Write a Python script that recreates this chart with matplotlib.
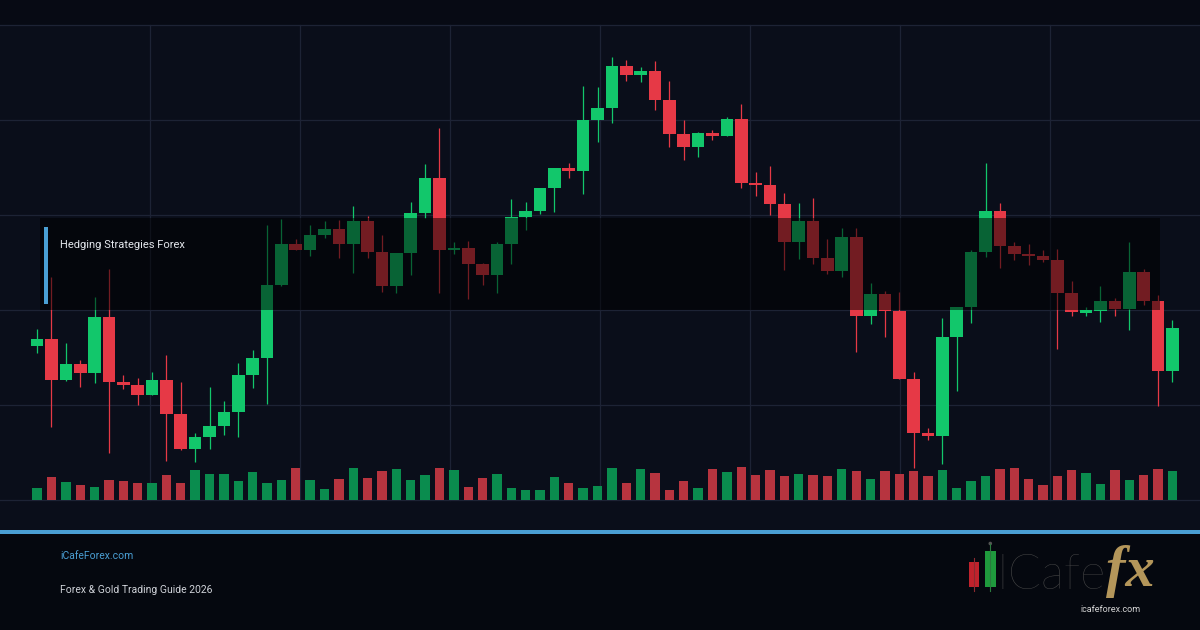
import matplotlib
matplotlib.use("Agg")
import matplotlib.pyplot as plt
from matplotlib.patches import Rectangle, Circle
import numpy as np

# ---------------- data ----------------
opens = [254.3, 261.0, 220.3, 236.0, 227.3, 283.0, 218.3, 215.0, 205.3, 220.0,
         186.3, 151.0, 163.0, 174.0, 188.0, 225.0, 242.0, 315.0, 356.0, 350.3,
         365.0, 371.0, 356.3, 379.0, 348.3, 314.3, 347.0, 387.0, 422.0, 349.6,
         352.0, 336.3, 325.3, 356.0, 383.0, 389.0, 412.0, 432.0, 429.0, 480.0,
         492.0, 534.0, 525.3, 529.0, 500.3, 466.3, 453.3, 467.0, 464.3, 481.0,
         417.3, 415.3, 396.3, 358.3, 379.0, 342.3, 329.3, 363.0, 284.3, 306.0,
         289.3, 221.0, 167.3, 164.3, 263.0, 293.0, 348.0, 389.0, 354.3, 346.3,
         344.3, 340.3, 307.3, 287.5, 289.0, 299.0, 291.0, 328.0, 299.3, 229.3]
highs = [271.0, 322.7, 256.7, 240.0, 303.0, 331.0, 225.0, 222.0, 228.0, 244.7,
         218.0, 167.3, 213.0, 199.0, 236.7, 250.0, 375.0, 381.0, 360.7, 375.0,
         379.0, 380.0, 394.0, 384.0, 365.0, 347.0, 398.0, 436.0, 472.0, 358.0,
         359.0, 337.0, 358.0, 401.0, 398.0, 412.0, 432.0, 437.0, 514.0, 513.0,
         543.0, 540.0, 533.0, 539.0, 519.0, 480.0, 468.0, 470.0, 483.0, 496.0,
         428.0, 434.0, 407.0, 397.0, 402.0, 361.0, 372.0, 372.0, 317.0, 309.0,
         308.3, 228.0, 172.3, 282.0, 293.0, 350.0, 437.0, 397.0, 358.3, 356.0,
         350.3, 351.0, 319.0, 293.0, 314.0, 302.0, 358.0, 331.0, 305.3, 280.0]
lows = [247.3, 173.3, 219.3, 213.3, 217.3, 147.3, 210.7, 195.3, 205.3, 139.3,
        150.3, 138.3, 151.3, 165.0, 163.3, 212.3, 196.0, 314.0, 350.0, 344.3,
        361.7, 342.3, 327.0, 342.3, 308.0, 307.0, 325.0, 382.3, 307.0, 345.7,
        301.0, 315.0, 307.0, 336.3, 370.3, 386.0, 388.0, 422.3, 406.3, 458.3,
        477.3, 519.3, 518.3, 490.3, 453.3, 440.3, 443.3, 460.3, 464.0, 412.3,
        404.3, 385.3, 330.3, 341.3, 336.3, 326.0, 323.3, 248.3, 276.3, 263.3,
        221.0, 132.3, 160.3, 136.3, 209.3, 277.3, 343.3, 332.3, 340.3, 335.0,
        338.3, 251.3, 284.3, 284.3, 278.0, 284.3, 270.0, 295.3, 194.3, 218.3]
closes = [261.0, 220.3, 236.0, 227.3, 283.0, 218.3, 215.0, 205.3, 220.0, 186.3,
          151.0, 163.0, 174.0, 188.0, 225.0, 242.0, 315.0, 356.0, 350.3, 365.0,
          371.0, 356.3, 379.0, 348.3, 314.3, 347.0, 387.0, 422.0, 350.3, 352.3,
          336.3, 325.3, 356.0, 383.0, 389.0, 412.0, 432.0, 429.0, 480.0, 492.0,
          534.0, 525.3, 529.0, 500.3, 466.3, 453.3, 467.0, 464.3, 481.0, 417.3,
          415.3, 396.3, 358.3, 379.0, 342.3, 329.3, 363.0, 284.3, 306.0, 289.3,
          221.0, 167.3, 164.3, 263.0, 293.0, 348.0, 389.0, 354.3, 346.3, 344.3,
          340.3, 307.3, 288.3, 289.7, 299.0, 291.0, 328.0, 299.3, 229.3, 272.0]
volumes = [1170, 2270, 1770, 1470, 1270, 1970, 1870, 1670, 1670, 2470,
           1670, 2970, 2570, 2570, 1870, 2770, 1670, 1970, 3170, 1970,
           1070, 2070, 3170, 2170, 2870, 3070, 1970, 2470, 3170, 2970,
           1270, 2170, 2570, 1170, 970, 970, 2270, 1670, 1170, 1370,
           3170, 1670, 3070, 2670, 970, 1870, 1170, 3070, 2770, 3270,
           2470, 2970, 2370, 2570, 2470, 2370, 3070, 2870, 2070, 2870,
           2570, 2870, 2370, 2970, 1170, 1870, 2370, 3070, 3170, 2070,
           1470, 2370, 2970, 2670, 1570, 2970, 1970, 2470, 3070, 2870]

title = "Hedging Strategies Forex"
site_label = "iCafeForex.com"
guide_label = "Forex & Gold Trading Guide 2026"
logo_word = "ICafe"
logo_fx = "fx"
logo_url = "icafeforex.com"

# ---------------- style ----------------
UP = "#12c76b"
DOWN = "#e63946"
VOL_UP = "#0a8c4e"
VOL_DOWN = "#b7343f"
BLUE = "#4a9fd4"
GRID = "#1d2335"

W, H = 1200, 630
fig = plt.figure(figsize=(12, 6.3), dpi=100, facecolor="#070a14")


def pixel_axes(z):
    a = fig.add_axes([0, 0, 1, 1], zorder=z)
    a.set_xlim(0, W)
    a.set_ylim(H, 0)
    a.axis("off")
    a.patch.set_alpha(0)
    return a


# background, grid, footer
bg = pixel_axes(0)
bg.add_patch(Rectangle((0, 25), W, 505, color="#0a0e1a", lw=0))
for gy in [25, 120, 215, 310, 405, 500]:
    bg.plot([0, W], [gy, gy], color=GRID, lw=0.9)
for gx in range(150, 1200, 150):
    bg.plot([gx, gx], [25, 500], color=GRID, lw=0.9)
bg.add_patch(Rectangle((0, 534), W, 96, color="#05080f", lw=0))
bg.add_patch(Rectangle((0, 530), W, 4, color=BLUE, lw=0))

# candles
o = np.array(opens)
h = np.array(highs)
l = np.array(lows)
c = np.array(closes)
v = np.array(volumes)
n = len(o)
idx = np.arange(n)
up = c >= o
cols = np.where(up, UP, DOWN)
vcols = np.where(up, VOL_UP, VOL_DOWN)

step, first = 14.37, 37.1
xlim = (-first / step, (W - first) / step)

ax = fig.add_axes([0, 130 / 630, 1, 475 / 630], zorder=1)
ax.set_xlim(*xlim)
ax.set_ylim(100, 575)
ax.axis("off")
ax.patch.set_alpha(0)
ax.vlines(idx, l, h, colors=cols, lw=0.9)
ax.bar(idx, np.maximum(np.abs(c - o), 1.0), bottom=np.minimum(o, c),
       width=0.88, color=cols, lw=0)

axv = fig.add_axes([0, 130 / 630, 1, 60 / 630], zorder=1)
axv.set_xlim(*xlim)
axv.set_ylim(0, 6000)
axv.axis("off")
axv.patch.set_alpha(0)
axv.bar(idx, v, width=0.65, color=vcols, lw=0)

# overlay, title, footer
ov = pixel_axes(3)
ov.add_patch(Rectangle((40, 218), 1120, 92, color="#000000", alpha=0.5, lw=0))
ov.add_patch(Rectangle((44, 227), 4, 77, color=BLUE, lw=0))
ov.text(60, 245, title, va="center", ha="left", fontsize=8, color="#e3e6ec",
        family=["Roboto", "DejaVu Sans"])
ov.text(60, 556, site_label, va="center", ha="left", fontsize=7.5, color=BLUE,
        family=["Roboto", "DejaVu Sans"])
ov.text(60, 590, guide_label, va="center", ha="left", fontsize=7.5, color="#cfd2d8",
        family=["Roboto", "DejaVu Sans"])

# logo
ov.plot([974, 974], [558, 591], color="#8a2a30", lw=0.8)
ov.add_patch(Rectangle((969, 561.7), 10, 25.6, color="#c0222c", lw=0))
ov.plot([990.3, 990.3], [544, 591], color="#2a7a3e", lw=0.8)
ov.add_patch(Circle((990.3, 543.5), 1.8, color="#555555", lw=0))
ov.add_patch(Rectangle((985, 550.7), 10.7, 36.6, color="#1f9a3d", lw=0))
ov.text(996, 589, logo_word, va="baseline", ha="left", fontsize=35, color="#4a4a4a",
        family=["Lato", "DejaVu Sans"], fontweight="light")
ov.text(1106, 586, logo_fx, va="baseline", ha="left", fontsize=42, color="#b4965a",
        family=["Liberation Serif", "DejaVu Serif"], fontweight="bold", fontstyle="italic")
ov.text(1080, 610, logo_url, va="center", ha="left", fontsize=6.5, color="#d4d4d4",
        family=["Roboto", "DejaVu Sans"])

fig.savefig("out.png", dpi=100, facecolor=fig.get_facecolor())
